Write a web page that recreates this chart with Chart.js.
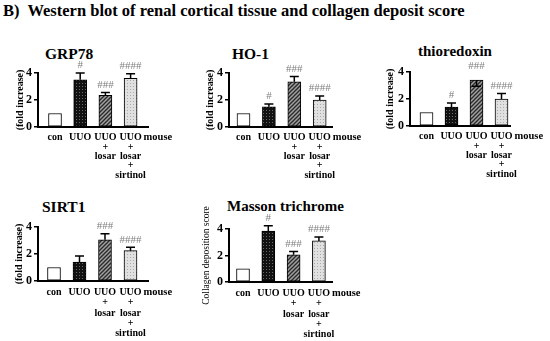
<!DOCTYPE html>
<html><head><meta charset="utf-8">
<script src="https://cdn.jsdelivr.net/npm/chart.js@4.4.1/dist/chart.umd.min.js"></script>
<style>
body{margin:0;background:#fff;width:550px;height:341px;overflow:hidden;position:relative;font-family:"Liberation Serif","Times New Roman",serif;}
canvas{position:absolute;}
.t{position:absolute;font-weight:bold;white-space:nowrap;color:#000;line-height:1;}
</style></head><body>
<div class="t" style="left:3px;top:3px;font-size:16.5px;">B)&nbsp; Western blot of renal cortical tissue and collagen deposit score</div>
<div class="t" style="left:45px;top:46px;font-size:15.5px;">GRP78</div>
<div class="t" style="left:232px;top:46px;font-size:15.5px;">HO-1</div>
<div class="t" style="left:418px;top:44px;font-size:15px;">thioredoxin</div>
<div class="t" style="left:42px;top:199px;font-size:15.5px;">SIRT1</div>
<div class="t" style="left:227px;top:199px;font-size:15px;">Masson trichrome</div>
<script>
// ---- data ----
const categories = [['con'], ['UUO'], ['UUO','+','losar'], ['UUO','+','losar','+','sirtinol']];
const extraLabel = 'mouse';
const yTickLabels = [0, 2, 4];
const foldTitle = '(fold increase)';
const collagenTitle = 'Collagen deposition score';

const grp78Values = [1.0, 3.5, 2.35, 3.6];
const grp78Errors = [0, 0.5, 0.2, 0.35];
const grp78Marks  = ['', '#', '###', '####'];

const ho1Values = [1.0, 1.5, 3.35, 2.0];
const ho1Errors = [0, 0.2, 0.4, 0.3];
const ho1Marks  = ['', '#', '###', '####'];

const trxValues = [1.0, 1.4, 3.4, 2.0];
const trxErrors = [0, 0.3, -0.45, 0.4];
const trxMarks  = ['', '#', '###', '####'];

const sirt1Values = [1.0, 1.4, 3.05, 2.25];
const sirt1Errors = [0, 0.45, 0.45, 0.25];
const sirt1Marks  = ['', '', '###', '####'];

const massonValues = [1.0, 3.85, 2.05, 3.1];
const massonErrors = [0, 0.4, 0.25, 0.3];
const massonMarks  = ['', '#', '###', '####'];

// ---- fills ----
function pattern(kind){
  const c = document.createElement('canvas');
  const g = c.getContext('2d');
  if (kind === 'white') return '#ffffff';
  if (kind === 'darkdots'){
    c.width = 3; c.height = 3;
    g.fillStyle = '#111'; g.fillRect(0,0,3,3);
    g.fillStyle = '#6a6a6a'; g.fillRect(1,1,1,1);
  } else if (kind === 'hatch'){
    c.width = 4; c.height = 4;
    g.fillStyle = '#a0a0a0'; g.fillRect(0,0,4,4);
    g.strokeStyle = '#2a2a2a'; g.lineWidth = 1.3;
    g.beginPath(); g.moveTo(-1,5); g.lineTo(5,-1); g.stroke();
    g.beginPath(); g.moveTo(-1,1); g.lineTo(1,-1); g.stroke();
    g.beginPath(); g.moveTo(3,5); g.lineTo(5,3); g.stroke();
  } else {
    c.width = 3; c.height = 3;
    g.fillStyle = '#e0e0e0'; g.fillRect(0,0,3,3);
    g.fillStyle = '#aaaaaa'; g.fillRect(1,1,1,1);
  }
  return g.createPattern(c, 'repeat');
}
const fills = [pattern('white'), pattern('darkdots'), pattern('hatch'), pattern('light')];

const serif = '"Liberation Serif","Times New Roman",serif';
const labelPad = 6;

const errPlugin = {
  id: 'errs',
  afterDatasetsDraw(chart){
    const o = chart.options.plugins.errs;
    const meta = chart.getDatasetMeta(0);
    const ys = chart.scales.y, xs = chart.scales.x, ctx = chart.ctx;
    ctx.save();
    meta.data.forEach((el, i) => {
      const v = o.values[i], e = o.errors[i];
      const x = el.x;
      if (e !== 0){
        const y1 = ys.getPixelForValue(v), y2 = ys.getPixelForValue(v + e);
        ctx.strokeStyle = '#000'; ctx.lineWidth = 1.5;
        ctx.beginPath(); ctx.moveTo(x, y1); ctx.lineTo(x, y2);
        ctx.moveTo(x - 4.5, y2); ctx.lineTo(x + 4.5, y2); ctx.stroke();
      }
      if (o.marks[i]){
        const yt = ys.getPixelForValue(v + Math.abs(e)) - 2;
        ctx.fillStyle = '#808080';
        ctx.font = '11px ' + serif;
        ctx.textAlign = 'center'; ctx.textBaseline = 'bottom';
        ctx.fillText(o.marks[i], x, yt);
      }
    });
    const ca = chart.chartArea;
    ctx.fillStyle = '#000';
    ctx.font = 'bold 10.5px ' + serif;
    ctx.textAlign = 'left'; ctx.textBaseline = 'middle';
    ctx.fillText(extraLabel, xs.getPixelForValue(categories.length - 1) + 13, ca.bottom + labelPad + o.lh / 2);
    ctx.restore();
  }
};

function panel(p){
  const cv = document.createElement('canvas');
  const W = p.right - p.left + 45, H = p.y0 - p.top + 62;
  cv.width = W; cv.height = H;
  cv.style.left = p.left + 'px'; cv.style.top = p.top + 'px';
  cv.style.width = W + 'px'; cv.style.height = H + 'px';
  document.body.appendChild(cv);
  const axisW = p.axisX - p.left;
  const xMin = (p.axisX - p.c0) / p.sp, xMax = (p.right - p.c0) / p.sp;
  new Chart(cv, {
    type: 'bar',
    data: { datasets: [{
      data: p.values.map((v, i) => ({x: i, y: v})),
      backgroundColor: fills, borderColor: '#000', borderWidth: 1,
      borderSkipped: false, barThickness: 13
    }]},
    options: {
      responsive: false, animation: false, devicePixelRatio: 1,
      layout: { padding: { top: p.y4 - p.top, right: 45, left: 0, bottom: 0 } },
      plugins: { legend: {display: false}, tooltip: {enabled: false},
        errs: { values: p.values, errors: p.errors, marks: p.marks, lh: p.lh } },
      scales: {
        x: { type: 'linear', min: xMin, max: xMax, offset: false,
          afterBuildTicks: s => { s.ticks = categories.map((c, i) => ({value: i})); },
          afterFit: s => { s.height = H - (p.y0 - p.top); },
          ticks: { autoSkip: false, maxRotation: 0, padding: labelPad, color: '#000',
            font: { family: serif, size: 10, weight: 'bold', lineHeight: p.lh / 10 },
            callback: v => categories[v] },
          grid: { display: false, drawTicks: false },
          border: { color: '#000', width: 2 } },
        y: { min: 0, max: 4,
          afterFit: s => { s.width = axisW; },
          ticks: { stepSize: 1, padding: 2, color: '#000',
            font: { family: serif, size: 12, weight: 'bold' },
            callback: v => yTickLabels.includes(v) ? String(v) : '' },
          grid: { drawOnChartArea: false, tickLength: 4, color: '#000', lineWidth: 1.5 },
          border: { color: '#000', width: 2 },
          title: { display: true, text: p.title, color: '#000',
            font: { family: serif, size: p.titleSize, weight: p.titleWeight, lineHeight: 1.2 },
            padding: { top: p.titleX - p.left - p.titleSize * 0.6, bottom: 0 } } }
      }
    },
    plugins: [errPlugin]
  });
}

panel({left: 0, top: 40, axisX: 38, right: 148, c0: 55, sp: 25.2, y4: 73, y0: 127, lh: 9.4,
  values: grp78Values, errors: grp78Errors, marks: grp78Marks, title: foldTitle, titleX: 20, titleSize: 10, titleWeight: 'bold'});
panel({left: 190, top: 40, axisX: 229, right: 332, c0: 243.5, sp: 25.4, y4: 73, y0: 127, lh: 9.4,
  values: ho1Values, errors: ho1Errors, marks: ho1Marks, title: foldTitle, titleX: 210, titleSize: 10, titleWeight: 'bold'});
panel({left: 370, top: 40, axisX: 410, right: 510, c0: 426.5, sp: 25, y4: 72, y0: 126, lh: 9.4,
  values: trxValues, errors: trxErrors, marks: trxMarks, title: foldTitle, titleX: 390, titleSize: 10, titleWeight: 'bold'});
panel({left: 0, top: 190, axisX: 38, right: 148, c0: 54, sp: 25.5, y4: 227, y0: 281, lh: 10.4,
  values: sirt1Values, errors: sirt1Errors, marks: sirt1Marks, title: foldTitle, titleX: 19, titleSize: 10, titleWeight: 'bold'});
panel({left: 190, top: 190, axisX: 229, right: 332, c0: 243, sp: 25.3, y4: 229, y0: 282, lh: 10.4,
  values: massonValues, errors: massonErrors, marks: massonMarks, title: collagenTitle, titleX: 206, titleSize: 9.5, titleWeight: 'normal'});
</script>
</body></html>
